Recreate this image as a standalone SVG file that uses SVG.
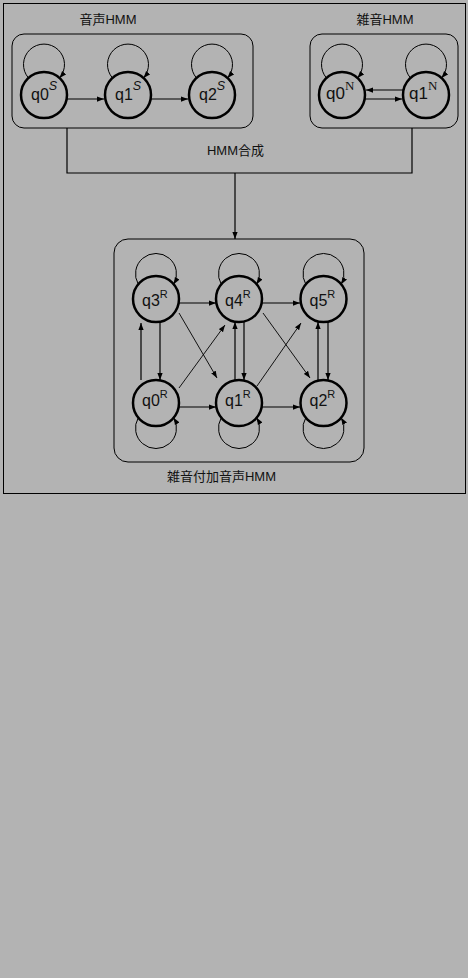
<svg xmlns="http://www.w3.org/2000/svg" width="468" height="978" viewBox="0 0 468 978">
  <defs>
    <marker id="ah" viewBox="0 0 8 6" refX="8" refY="3" markerWidth="7" markerHeight="5.5" markerUnits="userSpaceOnUse" orient="auto">
      <path d="M0,0 L8,3 L0,6 Z" fill="#000"/>
    </marker>
  </defs>
  <style>
    .bg { fill: #b3b3b3; }
    .frame { fill: none; stroke: #000; stroke-width: 1; }
    .grp { fill: none; stroke: #000; stroke-width: 1; }
    .node { fill: #b3b3b3; stroke: #000; stroke-width: 2.5; }
    .edge { fill: none; stroke: #000; stroke-width: 1.2; marker-end: url(#ah); }
    .thin { fill: none; stroke: #000; stroke-width: 0.9; marker-end: url(#ah); }
    .loop { fill: none; stroke: #000; stroke-width: 1; marker-end: url(#ah); }
    .conn { fill: none; stroke: #000; stroke-width: 1.2; }
    .cap { font-family: "Liberation Sans", "Noto Sans CJK JP", sans-serif; font-size: 13px; fill: #111; text-anchor: middle; }
    .lbl { font-family: "Liberation Sans", "Noto Sans CJK JP", sans-serif; font-size: 16px; fill: #111; }
    .lblN { font-family: "Liberation Sans", sans-serif; font-size: 17px; fill: #111; }
    .supS { font-family: "Liberation Sans", sans-serif; font-size: 12.5px; font-style: italic; }
    .supN { font-family: "Liberation Serif", serif; font-size: 13px; }
    .supR { font-family: "Liberation Sans", sans-serif; font-size: 11px; }
  </style>
  <rect class="bg" x="0" y="0" width="468" height="978"/>
  <rect class="frame" x="3.5" y="3.5" width="462" height="490"/>

  <g id="speech-hmm">
    <rect class="grp" x="12" y="34" width="241" height="94" rx="12"/>
    <text class="cap" x="108" y="24">音声HMM</text>
  </g>
  <g id="noise-hmm">
    <rect class="grp" x="310" y="34" width="148" height="94" rx="12"/>
    <text class="cap" x="385" y="24">雑音HMM</text>
  </g>
  <g id="noisy-speech-hmm">
    <rect class="grp" x="114" y="239" width="250" height="223" rx="14"/>
    <text class="cap" x="221.5" y="481">雑音付加音声HMM</text>
  </g>

  <g id="connectors">
    <polyline class="conn" points="67,128 67,173 412,173 412,128"/>
    <line class="edge" x1="235" y1="173" x2="235" y2="239"/>
    <text class="cap" x="235.5" y="155">HMM合成</text>

    <!-- speech HMM loops -->
    <path class="loop" d="M28.5,78 A20.5,20.5 0 1 1 59.5,78"/>
    <path class="loop" d="M112.5,78 A20.5,20.5 0 1 1 143.5,78"/>
    <path class="loop" d="M196.5,78 A20.5,20.5 0 1 1 227.5,78"/>
    <line class="edge" x1="67" y1="99" x2="104" y2="99"/>
    <line class="edge" x1="151" y1="99" x2="188" y2="99"/>

    <!-- noise HMM -->
    <path class="loop" d="M326.5,78 A20.5,20.5 0 1 1 357.5,78"/>
    <path class="loop" d="M410.5,78 A20.5,20.5 0 1 1 441.5,78"/>
    <line class="edge" x1="403" y1="90" x2="366" y2="90"/>
    <line class="edge" x1="365" y1="99" x2="402" y2="99"/>

    <!-- noisy speech loops top -->
    <path class="loop" d="M138.3,284.3 A20.5,20.5 0 1 1 173.7,284.3"/>
    <path class="loop" d="M221.3,284.3 A20.5,20.5 0 1 1 256.7,284.3"/>
    <path class="loop" d="M305.8,284.3 A20.5,20.5 0 1 1 341.2,284.3"/>
    <!-- loops bottom -->
    <path class="loop" d="M138.3,417.7 A20.5,20.5 0 1 0 173.7,417.7"/>
    <path class="loop" d="M221.3,417.7 A20.5,20.5 0 1 0 256.7,417.7"/>
    <path class="loop" d="M305.8,417.7 A20.5,20.5 0 1 0 341.2,417.7"/>

    <!-- horizontal -->
    <line class="edge" x1="179" y1="303" x2="216" y2="303"/>
    <line class="edge" x1="262" y1="303" x2="300" y2="303"/>
    <line class="edge" x1="179" y1="407" x2="216" y2="407"/>
    <line class="edge" x1="262" y1="407" x2="300" y2="407"/>

    <!-- vertical -->
    <line class="edge" x1="160" y1="322" x2="160" y2="380"/>
    <line class="edge" x1="141" y1="380" x2="141" y2="323"/>
    <line class="edge" x1="244" y1="322" x2="244" y2="380"/>
    <line class="edge" x1="235" y1="380" x2="235" y2="322"/>
    <line class="edge" x1="328" y1="322" x2="328" y2="380"/>
    <line class="edge" x1="318" y1="380" x2="318" y2="322"/>

    <!-- diagonals -->
    <line class="thin" x1="179" y1="313" x2="217" y2="378"/>
    <line class="thin" x1="179" y1="388" x2="225" y2="325"/>
    <line class="thin" x1="263" y1="313" x2="310" y2="378"/>
    <line class="thin" x1="257" y1="386" x2="301" y2="323"/>
  </g>

  <g id="q0S"><circle class="node" cx="44" cy="95" r="23"/><text class="lbl" x="31" y="100">q0<tspan class="supS" dy="-10">S</tspan></text></g>
  <g id="q1S"><circle class="node" cx="128" cy="95" r="23"/><text class="lbl" x="115" y="100">q1<tspan class="supS" dy="-10">S</tspan></text></g>
  <g id="q2S"><circle class="node" cx="212" cy="95" r="23"/><text class="lbl" x="199" y="100">q2<tspan class="supS" dy="-10">S</tspan></text></g>

  <g id="q0N"><circle class="node" cx="342" cy="95" r="23"/><text class="lblN" x="326" y="99">q0<tspan class="supN" dy="-9">N</tspan></text></g>
  <g id="q1N"><circle class="node" cx="426" cy="95" r="23"/><text class="lblN" x="409" y="99">q1<tspan class="supN" dy="-9">N</tspan></text></g>

  <g id="q3R"><circle class="node" cx="156" cy="299" r="23"/><text class="lbl" x="142" y="306">q3<tspan class="supR" dy="-8">R</tspan></text></g>
  <g id="q4R"><circle class="node" cx="239" cy="299" r="23"/><text class="lbl" x="225" y="306">q4<tspan class="supR" dy="-8">R</tspan></text></g>
  <g id="q5R"><circle class="node" cx="323.5" cy="299" r="23"/><text class="lbl" x="309.5" y="306">q5<tspan class="supR" dy="-8">R</tspan></text></g>
  <g id="q0R"><circle class="node" cx="156" cy="403" r="23"/><text class="lbl" x="142" y="406">q0<tspan class="supR" dy="-8">R</tspan></text></g>
  <g id="q1R"><circle class="node" cx="239" cy="403" r="23"/><text class="lbl" x="225" y="406">q1<tspan class="supR" dy="-8">R</tspan></text></g>
  <g id="q2R"><circle class="node" cx="323.5" cy="403" r="23"/><text class="lbl" x="309.5" y="406">q2<tspan class="supR" dy="-8">R</tspan></text></g>
</svg>
